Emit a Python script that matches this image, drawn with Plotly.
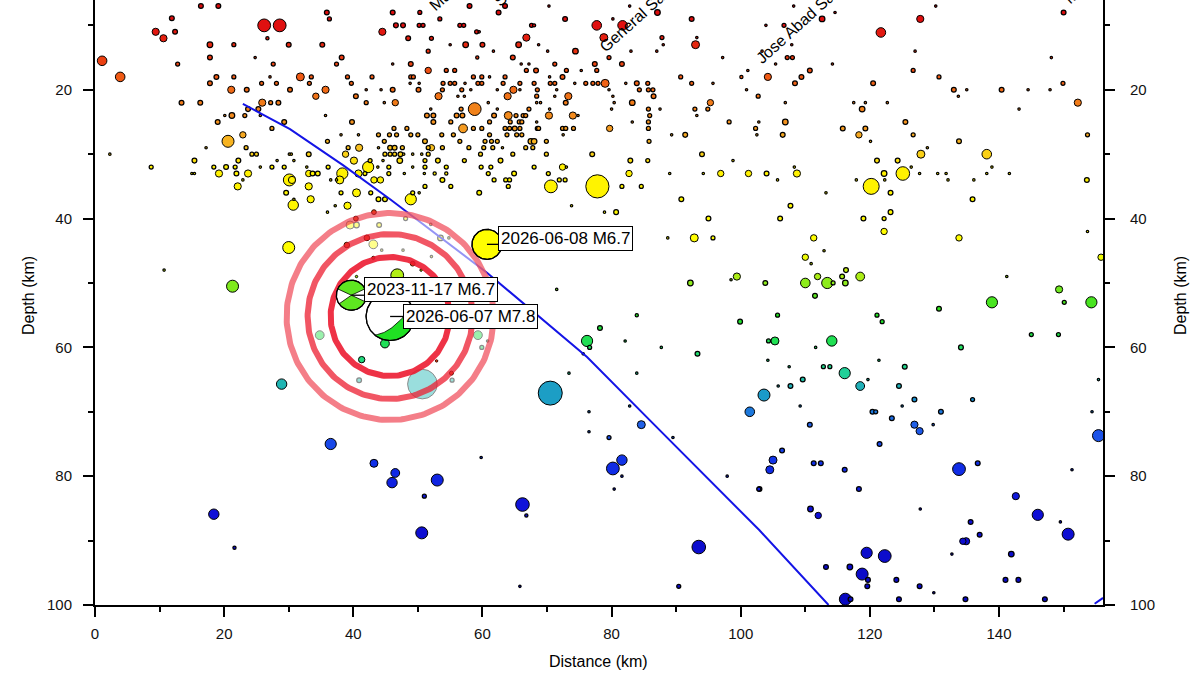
import numpy as np
import plotly.graph_objects as go

# ============================================================ DATA
# catalogue events: distance along profile (km), depth (km), magnitude
# shallow western cluster
west_dist = [16.4,19.1,11.9,9.4,10.6,12.4,26.2,28.6,26.7,17.8,
             21.5,30.0,35.2,35.9,36.3,46.1,50.3,46.6,47.7,50.2,
             50.8,44.5,48.5,1.1,3.9,12.8,17.8,24.8,27.6,37.4,
             38.2,46.1,48.9,51.6,51.6,18.8,17.8,21.5,27.1,25.8,
             28.1,31.8,33.5,33.2,39.1,39.7,42.9,48.9,49.3,48.8,
             50.2,21.1,23.5,30.2,35.7,34.2,40.4,42.0,44.3,46.1,
             50.1,13.4,16.3,25.9,27.2,28.4,23.7,25.3,25.6,42.0,
             44.8,46.5,20.1,21.2,23.2,35.7,19.0,29.3,39.8,27.4,
             20.6,22.9,17.2,23.4,2.3,8.7,15.4,15.0,15.4,19.2]
west_depth = [7.0,7.0,8.9,11.0,12.0,11.0,10.0,10.0,12.0,13.0,
              13.0,13.0,13.0,8.0,9.0,8.0,8.0,10.0,10.0,10.0,
              10.0,11.0,12.0,15.5,18.0,16.0,15.0,15.0,16.0,16.0,
              15.0,16.0,16.0,17.0,14.0,18.0,19.0,18.0,18.0,19.0,
              19.0,18.0,18.0,19.0,18.0,19.0,18.0,18.0,18.0,19.0,
              19.0,20.0,20.0,20.0,20.0,21.0,21.0,20.0,20.0,20.0,
              20.0,22.0,22.0,22.0,22.0,22.0,23.0,23.0,24.0,22.0,
              22.0,22.0,24.0,24.0,24.0,24.0,25.0,25.0,25.0,26.0,
              28.0,27.0,29.0,29.0,30.0,32.0,31.0,33.0,33.0,33.0]
west_mag = [3.1,3.1,3.1,3.4,3.4,3.1,4.1,4.1,2.9,3.2,
            3.0,3.1,3.1,3.1,3.0,3.1,3.0,3.1,3.1,3.0,
            3.0,3.4,3.1,3.7,3.7,3.0,3.1,2.8,3.0,3.0,
            3.1,2.8,3.1,3.3,3.0,3.1,3.1,3.0,2.8,3.0,
            3.0,3.5,3.0,3.0,3.0,3.0,3.0,3.0,3.0,2.8,
            2.8,3.4,3.1,3.1,3.4,3.3,3.1,2.8,2.8,3.1,
            3.1,3.1,3.1,3.4,3.0,3.1,3.1,3.1,2.8,3.0,
            2.8,3.3,2.8,3.2,3.0,2.8,3.1,3.1,3.1,3.0,
            4.0,3.3,2.8,3.0,2.8,3.0,3.1,2.8,2.8,3.4]

# western yellow cluster (26-39 km depth)
wy_dist = [18.4,20.3,21.7,21.9,22.2,23.7,24.3,25.0,22.9,22.1,
           25.6,27.4,28.2,29.3,30.1,30.4,30.1,30.5,30.8,33.1,
           33.1,33.7,34.5,33.1,32.8,29.6,33.4,30.8,36.0,38.1,
           38.8,39.2,40.9,40.8,36.1,36.5,37.4,38.3,37.9,40.1,
           40.8,38.1,40.5,42.3,42.6,41.8,43.2,44.2,43.9,43.9,
           45.6,46.7,46.3,48.3,48.9,50.0,44.8,45.7,46.4,47.6,
           44.9,45.7,46.4,47.3,47.2,47.8,49.2,50.6,44.6,43.8,
           45.5,45.5,47.9,49.2,51.0,51.1,51.6,48.9,49.2,43.9,
           44.9,50.2,30.7,37.2,36.0,39.1,42.7]
wy_depth = [32.0,32.0,32.0,33.0,31.0,33.0,30.0,30.0,34.0,35.0,
            32.0,32.0,31.0,32.0,30.0,30.0,34.0,34.0,31.0,30.0,
            33.0,33.0,33.0,35.0,32.0,36.0,37.0,37.0,28.0,27.0,
            30.0,29.0,29.0,27.0,32.0,34.0,34.0,33.0,34.0,31.0,
            33.0,36.0,36.0,32.0,31.0,33.0,34.0,34.0,29.0,27.0,
            27.0,27.0,26.0,26.0,27.0,27.0,28.0,29.0,29.0,29.0,
            30.0,30.0,30.0,30.0,31.0,30.0,30.0,30.0,31.0,32.0,
            32.0,33.0,33.0,32.0,33.0,28.0,29.0,37.0,36.0,37.0,
            37.0,36.0,37.9,38.0,39.0,38.0,36.0]
wy_mag = [3.0,3.1,3.0,3.1,3.1,3.4,3.0,3.0,2.8,3.4,
          2.8,3.0,2.8,3.0,2.8,2.8,4.0,3.4,2.8,3.1,
          3.3,3.1,3.1,3.4,2.8,3.1,3.4,2.8,3.0,2.8,
          3.3,3.0,3.4,2.8,3.0,2.8,2.8,3.9,3.5,3.4,
          3.4,3.0,3.5,3.9,3.0,3.0,3.3,3.3,2.8,3.0,
          3.0,3.0,3.0,3.0,3.0,3.0,3.0,3.1,3.1,3.0,
          3.0,3.0,3.0,3.1,3.2,2.8,2.8,2.8,2.8,2.8,
          3.0,3.0,2.8,2.8,2.8,3.1,3.0,3.9,3.0,3.1,
          3.1,2.8,3.8,2.8,2.8,3.4,3.0]

# deeper western events (incl. those around the 2026 sequence)
wd_dist = [30.0,10.7,21.3,28.9,39.5,40.5,43.1,44.0,48.1,44.4,
           47.7,34.8,59.3,59.9,60.8,40.9,55.3,53.5,54.8,52.0,
           52.1,50.7]
wd_depth = [44.5,48.0,50.5,65.7,41.0,41.0,44.0,41.0,40.0,44.9,
            44.9,58.1,58.1,60.0,59.0,65.1,65.1,43.0,43.0,40.9,
            45.9,65.7]
wd_mag = [4.0,2.8,4.0,3.8,3.5,3.2,3.6,3.1,3.0,2.8,
          2.8,3.6,3.6,3.0,2.8,3.1,3.0,3.2,2.8,2.8,
          2.8,6.2]

# central shallow events (7-18 km)
cs_dist = [58.0,62.5,63.5,70.3,82.8,53.4,56.5,57.1,59.1,59.5,
           67.6,68.0,72.8,77.7,78.8,81.7,80.2,87.1,92.4,87.8,
           88.0,93.2,93.0,52.1,55.0,57.4,60.0,65.6,66.8,68.7,
           61.7,64.7,70.1,74.4,79.6,83.0,87.0,59.2,97.2,66.0,
           67.2,71.2,77.4,81.6,54.4,55.7,66.8,68.3,73.0,75.3,
           77.7,101.1,58.6,59.9,61.1,63.5,72.4,70.4,90.7,100.1]
cs_depth = [7.0,8.0,7.0,7.0,7.0,9.0,10.0,10.0,11.0,11.0,
            10.0,10.0,9.0,10.0,11.9,10.0,9.0,8.0,9.0,11.9,
            13.0,11.9,13.0,12.0,13.0,13.0,13.0,13.0,11.9,13.0,
            14.0,15.0,14.0,14.0,15.0,14.0,14.0,15.0,15.0,16.0,
            16.0,16.0,16.0,16.0,17.0,17.0,17.0,17.0,17.0,17.0,
            17.0,17.0,18.0,18.0,18.0,18.0,18.0,18.0,18.0,18.0]
cs_mag = [3.1,3.1,3.1,2.8,2.8,3.0,3.0,3.0,3.0,2.8,
          3.0,2.9,3.1,3.7,3.5,3.7,2.8,3.2,3.1,3.0,
          2.8,2.8,3.5,3.0,2.8,3.2,3.1,3.2,3.4,2.8,
          2.8,3.1,2.8,3.2,3.0,2.8,2.8,2.9,2.8,2.8,
          2.8,3.0,3.1,3.1,3.0,3.0,3.0,3.1,3.0,2.8,
          3.0,2.8,3.0,3.0,2.8,3.0,3.1,2.8,3.0,2.9]

# central events 19-25 km
cm_dist = [53.9,55.0,55.7,57.3,59.3,59.9,63.2,65.8,68.0,70.5,
           71.2,74.3,76.0,77.1,77.9,79.0,82.2,83.9,85.6,92.4,
           95.7,53.8,56.8,58.2,62.3,64.8,65.8,68.5,71.5,79.6,
           84.3,85.7,86.4,100.9,53.2,56.2,57.2,63.9,68.4,71.2,
           73.3,80.2,86.5,102.7,58.8,60.9,68.4,69.0,72.9,80.4,
           83.2,95.3,52.0,56.7,62.3,67.2,70.4,80.0,85.7,87.5,
           92.9,94.9,51.4,52.4,56.0,56.9,61.8,64.0,65.2,66.3,
           66.7,70.3,74.0,74.8,85.9,93.2,52.4,55.1,61.1,64.3,
           65.7,66.1,68.4,83.2,85.7,98.2]
cm_depth = [19.0,19.0,19.0,19.0,19.0,19.0,19.0,19.0,19.0,19.0,
            19.0,19.0,19.0,19.0,19.0,19.0,19.0,19.0,19.0,19.0,
            19.0,20.0,20.0,20.0,20.0,20.0,20.0,20.0,20.0,20.0,
            20.0,20.0,20.0,20.0,21.0,21.0,21.0,21.0,21.0,21.0,
            21.0,21.0,21.0,21.0,23.0,22.0,22.0,22.0,22.0,22.0,
            22.0,22.0,23.0,23.0,23.0,23.0,23.0,23.0,23.0,23.0,
            23.0,23.0,24.0,24.0,24.0,24.0,24.0,24.0,24.0,24.0,
            24.0,24.0,24.0,24.0,24.0,24.0,25.0,25.0,25.0,25.0,
            25.0,25.0,25.0,25.0,25.0,25.0]
cm_mag = [3.0,3.0,3.0,2.8,3.0,3.0,3.0,3.0,3.0,3.0,
          3.0,2.8,3.0,3.0,3.0,3.5,2.8,3.1,3.0,3.0,
          2.8,3.0,3.0,2.8,2.8,3.4,2.8,3.0,2.8,2.8,
          3.0,3.0,3.0,2.8,3.4,2.8,2.8,3.4,3.0,2.8,
          3.4,2.8,3.1,3.0,4.1,2.8,2.8,2.8,3.1,2.8,
          3.2,3.3,2.8,3.0,2.8,3.0,2.8,2.8,3.0,2.8,
          3.0,3.0,3.1,3.1,3.1,3.1,3.1,3.5,3.0,3.0,
          3.0,3.4,3.4,2.8,3.0,2.8,3.1,3.0,3.0,3.0,
          3.0,3.0,2.8,2.8,3.0,3.0]

# central events 26-37 km
cd_dist = [57.0,58.6,59.9,63.5,64.2,65.0,65.8,68.5,68.7,72.4,
           72.9,74.1,79.7,85.7,102.3,53.7,55.5,61.1,63.8,65.3,
           66.1,72.5,91.4,89.3,102.5,56.5,60.4,61.4,62.3,67.5,
           68.0,69.9,85.8,52.1,53.8,57.9,60.2,61.6,63.1,66.7,
           67.8,51.6,59.7,64.7,69.9,77.0,94.0,51.1,53.1,57.2,
           62.8,85.6,82.9,98.8,51.1,54.4,59.8,61.3,68.0,72.4,
           73.0,52.6,54.4,60.9,64.9,70.2,82.7,89.0,94.2,96.9,
           101.2,53.8,61.8,63.6,64.2,71.9,72.8,70.6,77.8,51.1,
           55.1,64.0,81.6,84.6,59.5,90.8]
cd_depth = [26.0,26.0,26.0,26.0,26.0,26.0,26.0,26.0,26.0,26.0,
            26.0,26.0,26.0,26.0,26.0,27.0,27.0,27.0,27.0,27.0,
            27.0,27.0,27.0,27.0,27.0,28.0,28.0,28.0,28.0,28.0,
            28.0,28.0,28.0,29.0,29.0,29.0,29.0,29.0,29.0,29.0,
            29.0,30.0,30.0,30.0,30.0,30.0,30.0,31.0,31.0,31.0,
            31.0,31.0,31.0,31.0,32.0,32.0,32.0,32.0,32.0,32.0,
            32.0,33.0,33.0,33.0,33.0,33.0,33.0,33.0,33.0,33.0,
            33.0,34.0,34.0,34.0,34.0,34.0,34.0,35.0,35.0,35.0,
            35.0,35.0,35.0,35.0,36.0,37.0]
cd_mag = [3.6,3.0,3.0,3.0,3.0,3.1,3.0,3.0,3.0,3.0,
          3.0,3.0,3.3,3.0,3.0,3.0,3.0,3.0,3.0,3.0,
          3.0,2.8,3.1,2.8,2.8,3.0,3.0,3.0,3.0,3.2,
          3.2,3.0,3.0,3.3,3.0,3.0,3.0,3.0,2.8,3.0,
          3.0,3.0,3.0,3.0,3.0,3.1,3.1,3.0,3.1,3.0,
          3.1,3.0,3.1,2.8,3.0,3.0,3.0,3.0,3.0,3.3,
          2.8,2.9,2.9,3.0,3.1,3.0,3.3,2.8,2.8,3.3,
          3.3,3.1,3.0,3.0,3.0,3.0,3.0,4.1,5.4,3.0,
          3.0,3.0,3.0,3.0,3.1,3.1]

# eastern shallow events
es_dist = [108.2,114.6,112.6,103.9,106.7,121.7,127.8,130.2,150.0,107.9,
           103.3,127.0,107.2,108.0,105.4,114.2,148.1,104.2,109.4,110.7,
           108.4,126.7,130.7,120.5,149.9,133.0,135.0,140.4,144.5,147.9,
           133.7,106.9,117.5,119.3,122.7,118.8,143.1,152.2,102.8,106.9,
           106.5,115.8,119.3,118.3,125.5,126.7,120.1,133.8,153.7,128.9,
           127.9,138.1,121.1,124.3,108.3,126.4,138.9,104.0,108.7,122.2,
           125.1,127.7,130.5,131.8,138.1,141.6,105.7,117.9,122.3,132.1,
           136.1,153.6,120.2,113.2,123.2,135.9]
es_depth = [7.0,8.0,9.0,10.0,10.0,11.1,9.0,7.0,8.0,13.0,
            14.0,14.0,15.0,15.0,16.0,16.0,15.0,18.0,18.0,17.0,
            19.0,17.0,18.0,19.0,19.0,20.0,20.0,20.0,20.0,20.0,
            21.0,22.0,22.0,22.0,22.0,23.0,23.0,22.0,25.0,25.0,
            27.0,26.0,26.0,27.0,25.0,27.0,28.0,28.0,27.0,29.0,
            30.0,30.0,31.0,31.0,32.0,32.0,32.0,33.0,33.0,33.0,
            33.0,33.0,33.0,33.0,33.0,33.0,34.0,34.0,34.0,34.0,
            34.0,34.0,35.0,36.0,36.0,37.0]
es_mag = [2.8,2.8,3.2,2.8,3.0,3.7,3.4,2.8,3.1,2.8,
          2.8,2.8,3.0,3.0,2.8,2.8,2.8,3.4,3.1,3.1,
          3.1,3.0,3.0,3.1,3.0,3.1,2.8,3.1,2.8,2.8,
          2.8,2.8,2.8,2.8,2.8,3.2,2.8,3.4,2.8,3.2,
          3.1,3.1,3.1,3.3,3.1,3.0,2.8,3.1,3.0,2.8,
          3.5,3.7,3.1,3.1,2.8,2.8,2.8,3.1,3.4,3.2,
          4.2,2.8,2.8,2.8,2.8,2.8,2.8,2.8,2.8,2.8,
          2.8,3.1,4.5,2.8,3.1,3.1]

# intermediate events 38-52 km (east)
ei_dist = [73.8,78.9,80.7,95.0,88.7,92.8,95.7,107.7,106.1,119.0,
           122.2,123.2,122.2,111.3,133.8,112.9,110.0,110.9,153.7,155.8,
           116.3,71.5,92.2,99.4,98.5,103.8,110.0,111.9,113.4,114.3,
           115.7,116.2,118.5,111.5,141.2,149.3]
ei_depth = [38.0,39.0,39.0,40.0,43.0,43.0,43.0,38.0,40.0,40.0,
            40.0,39.0,42.0,43.0,43.0,45.0,46.0,47.0,42.0,46.0,
            48.0,51.0,50.0,49.0,49.5,50.0,50.0,49.0,50.0,50.0,
            49.0,50.0,49.0,52.0,49.0,51.0]
ei_mag = [2.8,2.8,3.1,3.1,2.8,3.5,3.0,3.1,3.1,3.1,
          3.0,3.1,3.3,3.3,3.3,2.8,3.3,2.8,2.8,3.3,
          3.1,2.8,3.2,3.4,2.8,3.1,3.7,3.3,3.9,3.0,
          3.1,3.2,3.6,3.1,2.8,3.4]

# events 53-71 km (east)
em_dist = [150.1,138.9,154.3,130.7,105.7,121.1,121.9,145.0,149.2,104.3,
           105.3,114.1,111.6,134.1,104.2,107.5,112.8,113.8,121.4,125.4,
           116.1,109.6,118.5,119.7,105.8,107.7,124.5,155.4,103.6,109.2,
           126.9,125.0,135.9,120.4,120.9,131.0,123.4,154.4,101.4,83.9,
           78.2,99.9,82.1,87.7,93.3,76.2,76.6,75.6,73.4,83.9,
           70.5,76.5,82.8]
em_depth = [53.0,53.0,53.0,54.0,55.0,55.0,56.0,58.0,58.0,59.0,
            59.0,59.0,60.0,60.0,62.0,63.0,63.0,63.0,62.0,63.0,
            64.0,65.0,66.0,65.0,66.0,66.0,66.0,65.0,67.4,69.1,
            68.1,69.1,68.1,70.0,70.0,70.0,71.0,70.0,70.0,55.0,
            57.0,56.0,59.0,60.0,61.0,59.0,60.0,61.0,64.0,64.0,
            67.1,70.0,69.1]
em_mag = [3.0,3.9,3.9,3.1,3.0,3.0,3.0,3.0,3.0,3.0,
          3.5,3.8,2.8,3.1,2.8,2.8,3.0,3.0,2.8,3.1,
          3.9,3.1,3.6,2.8,2.8,3.1,3.1,2.8,4.0,2.8,
          3.1,2.8,3.0,3.1,3.0,3.1,3.1,2.8,3.7,2.9,
          3.1,3.1,2.8,2.8,3.1,3.9,3.0,2.8,2.8,2.8,
          5.5,2.8,2.8]

# deep events 72-100 km
dp_dist = [110.7,126.9,127.7,129.8,155.4,121.5,106.4,105.0,104.5,111.3,
           112.4,116.1,133.8,136.7,151.3,102.9,118.3,142.6,110.8,112.0,
           127.8,146.0,149.5,135.6,137.0,134.4,134.9,150.7,119.5,122.3,
           132.7,141.9,113.2,116.9,118.8,119.7,119.6,124.1,127.7,129.9,
           141.0,143.0,116.2,117.0,124.5,134.8,147.1,76.5,79.6,84.6,
           89.5,59.8,53.0,51.0,50.6,66.2,66.8,80.2,81.6,81.6,
           80.4,97.9,102.8,93.5,65.8,90.4,36.5,43.2,46.5,46.0,
           18.4,21.6]
dp_depth = [72.0,72.0,73.0,72.0,73.7,75.0,76.0,77.5,79.0,78.0,
            78.0,79.0,78.9,78.0,79.0,82.0,82.0,83.1,85.1,86.1,
            85.1,86.0,87.1,87.1,89.1,90.1,90.1,89.0,91.9,92.4,
            92.1,92.1,94.1,94.1,95.2,96.1,97.1,96.1,97.1,98.1,
            96.1,96.1,99.1,99.1,99.1,99.1,99.1,73.1,74.0,72.0,
            74.0,77.1,80.6,83.1,88.8,84.4,86.1,78.8,77.5,80.0,
            82.0,80.0,82.0,91.0,97.1,97.1,75.0,78.0,79.5,81.0,
            85.9,91.1]
dp_mag = [3.1,3.4,3.4,2.8,4.0,3.1,3.1,3.5,3.5,3.1,
          3.1,3.1,4.1,3.1,2.8,3.1,3.1,3.4,3.2,3.3,
          2.8,3.9,2.8,3.1,3.1,3.3,3.4,4.0,3.9,4.1,
          2.8,3.2,3.1,3.2,4.0,3.1,3.1,3.1,3.1,2.8,
          3.1,3.1,4.0,3.1,3.1,3.1,3.1,2.8,3.0,3.5,
          2.8,2.8,4.0,3.0,4.0,4.2,2.9,4.1,3.8,2.8,
          2.8,2.8,3.0,4.2,2.8,3.0,3.9,3.5,3.6,3.8,
          3.8,2.9]

# 2026 sequence events plotted above the highlight
seq_dist = [46.8, 44.9, 41.3, 40.5, 50.5]
seq_depth = [48.8, 59.4, 61.9, 49.0, 48.0]
seq_mag = [4.1, 3.6, 3.3, 2.8, 2.8]

# first-day aftershocks
early_dist = [40.4, 43.2, 42.1, 39.0, 49.2, 43.1, 55.2, 52.9]
early_depth = [40.0, 39.0, 43.0, 44.1, 47.0, 46.1, 64.0, 62.1]
early_mag = [3.1, 3.1, 3.2, 3.2, 3.1, 2.9, 3.0, 2.8]

# focal mechanisms
mech_label = ["2026-06-07 M7.8", "2023-11-17 M6.7", "2026-06-08 M6.7"]
mech_dist = [45.7, 39.7, 60.7]
mech_depth = [55.2, 51.9, 44.0]
mech_mag = [7.8, 6.7, 6.7]

# slab interface
slab_dist = [22.9, 30.2, 38.4, 45.7, 60.7, 68.1, 76.2, 85.9, 102.9, 113.6, None, 154.8, 156.1]
slab_depth = [22.2, 26.1, 31.7, 37.0, 48.4, 54.7, 61.5, 71.3, 88.4, 100.0, None, 99.8, 98.9]

# place names along the profile
place_name = ["Malungon", "Sarangani", "General Santos", "Jose Abad Santos", "Malita"]
place_dist = [50.8, 60.9, 77.3, 101.4, 149.1]
place_depth = [8.7, 7.9, 15.1, 16.9, 7.6]

# ============================================================ LAYOUT CONSTANTS
W, H = 1200, 675
ML, MR, MT, MB = 95, 97, 0, 70
X_RANGE = [0, 156.1]
Y_RANGE = [100, 6.06]
KX = (W - ML - MR) / (X_RANGE[1] - X_RANGE[0])
KY = (H - MT - MB) / (Y_RANGE[0] - Y_RANGE[1])
FONT = "Liberation Sans, Arial, Helvetica, sans-serif"

DEPTH_STOPS = [
    (0.00, "#c80000"), (0.10, "#e01010"), (0.14, "#e83010"), (0.18, "#f05a14"),
    (0.22, "#f07a18"), (0.26, "#f49a20"), (0.29, "#f8c020"), (0.32, "#fff000"),
    (0.45, "#ffff00"), (0.48, "#c8f010"), (0.51, "#70e820"), (0.55, "#20e020"),
    (0.60, "#20e060"), (0.64, "#20d098"), (0.66, "#20b0b8"), (0.68, "#1890d0"),
    (0.72, "#2060e8"), (0.78, "#1030e8"), (0.85, "#1010d8"), (1.00, "#0808c0"),
]
CMIN, CMAX = 0, 100


def hex_rgb(h):
    return tuple(int(h[i:i + 2], 16) for i in (1, 3, 5))


def depth_colour(d):
    t = min(max((d - CMIN) / (CMAX - CMIN), 0), 1)
    for (t0, c0), (t1, c1) in zip(DEPTH_STOPS, DEPTH_STOPS[1:]):
        if t0 <= t <= t1:
            f = (t - t0) / (t1 - t0) if t1 > t0 else 0
            a, b = hex_rgb(c0), hex_rgb(c1)
            return "rgb(%d,%d,%d)" % tuple(round(a[i] + (b[i] - a[i]) * f) for i in range(3))
    return DEPTH_STOPS[-1][1]


def mag_px(m):
    return max(2.2, 8.0 * (m - 2.5))


def edge_px(m):
    return 1.25 if mag_px(m) < 6 else 1.0


def ball_px(m):
    return 15 + (m - 6.7) * 8.2


def pt(cx, cd, ux, uy, r):
    return cx + ux * r / KX, cd - uy * r / KY


def arc(cx, cd, r, a0, a1, n=80):
    t = np.radians(np.linspace(a0, a1, n))
    return list(cx + r * np.cos(t) / KX), list(cd - r * np.sin(t) / KY)


# ============================================================ FIGURE
all_dist = west_dist + wy_dist + wd_dist + cs_dist + cm_dist + cd_dist + es_dist + ei_dist + em_dist + dp_dist
all_depth = west_depth + wy_depth + wd_depth + cs_depth + cm_depth + cd_depth + es_depth + ei_depth + em_depth + dp_depth
all_mag = west_mag + wy_mag + wd_mag + cs_mag + cm_mag + cd_mag + es_mag + ei_mag + em_mag + dp_mag
n = min(len(all_dist), len(all_depth), len(all_mag))
order = sorted(range(n), key=lambda i: -all_mag[i])

cscale = [[s, c] for s, c in DEPTH_STOPS]

fig = go.Figure()

fig.add_trace(go.Scatter(
    x=[all_dist[i] for i in order], y=[all_depth[i] for i in order], mode="markers",
    marker=dict(size=[mag_px(all_mag[i]) for i in order], color=[all_depth[i] for i in order],
                colorscale=cscale, cmin=CMIN, cmax=CMAX, opacity=1,
                line=dict(color="black", width=[edge_px(all_mag[i]) for i in order])),
    hoverinfo="skip"))

fig.add_trace(go.Scatter(x=slab_dist, y=slab_depth, mode="lines",
                         line=dict(color="#1414e6", width=2), hoverinfo="skip"))

# highlight disk around the mainshock
c_x, c_d = mech_dist[0], mech_depth[0]
dx, dy = arc(c_x, c_d, 106, 0, 360, 181)
fig.add_trace(go.Scatter(x=dx, y=dy, mode="lines", fill="toself",
                         fillcolor="rgba(255,255,255,0.55)", line=dict(width=0), hoverinfo="skip"))

fig.add_trace(go.Scatter(
    x=seq_dist, y=seq_depth, mode="markers",
    marker=dict(size=[mag_px(m) for m in seq_mag], color=seq_depth, colorscale=cscale,
                cmin=CMIN, cmax=CMAX, opacity=1, line=dict(color="black", width=1)),
    hoverinfo="skip"))
fig.add_trace(go.Scatter(
    x=early_dist, y=early_depth, mode="markers",
    marker=dict(size=[mag_px(m) for m in early_mag], color="#ec4a1c", opacity=1,
                line=dict(color="#3a0a00", width=1)),
    hoverinfo="skip"))

# rings
for r_px, col in [(103.5, "rgba(236,40,56,0.60)"), (82.5, "rgba(236,30,48,0.75)"),
                  (59.5, "rgba(236,22,44,0.88)")]:
    rx, ry = arc(c_x, c_d, r_px, 0, 360, 241)
    fig.add_trace(go.Scatter(x=rx, y=ry, mode="lines", line=dict(color=col, width=6),
                             hoverinfo="skip"))

# focal mechanisms
for i in range(len(mech_dist)):
    cx, cd, r = mech_dist[i], mech_depth[i], ball_px(mech_mag[i])
    col = depth_colour(cd)
    bx, by = arc(cx, cd, r, 0, 360, 121)
    base = "white" if i < 2 else col
    fig.add_trace(go.Scatter(x=bx, y=by, mode="lines", fill="toself", fillcolor=base,
                             line=dict(color="black", width=1.2), hoverinfo="skip"))
    if i == 0:
        gx, gy = arc(cx, cd, r, -130, 25, 80)
        p2 = (np.cos(np.radians(25)), np.sin(np.radians(25)))
        p0 = (np.cos(np.radians(-130)), np.sin(np.radians(-130)))
        cc = (0.065, -0.725)
        for s in np.linspace(0, 1, 40):
            ux = (1 - s) ** 2 * p2[0] + 2 * (1 - s) * s * cc[0] + s ** 2 * p0[0]
            uy = (1 - s) ** 2 * p2[1] + 2 * (1 - s) * s * cc[1] + s ** 2 * p0[1]
            px_, py_ = pt(cx, cd, ux, uy, r)
            gx.append(px_)
            gy.append(py_)
        fig.add_trace(go.Scatter(x=gx, y=gy, mode="lines", fill="toself", fillcolor=col,
                                 line=dict(color="black", width=0.8), hoverinfo="skip"))
    elif i == 1:
        gx, gy = [], []
        for a0, a1 in [(25, 155), (215, 335)]:
            ax_, ay_ = arc(cx, cd, r, a0, a1, 40)
            gx += [cx] + ax_ + [cx, None]
            gy += [cd] + ay_ + [cd, None]
        fig.add_trace(go.Scatter(x=gx, y=gy, mode="lines", fill="toself", fillcolor=col,
                                 line=dict(color="black", width=0.8), hoverinfo="skip"))
    fig.add_trace(go.Scatter(x=bx, y=by, mode="lines", line=dict(color="black", width=1.2),
                             hoverinfo="skip"))

LABEL_DX = [13, 13, 11]
LABEL_DY = [0, 6, 6]
lx, ly = [], []
for i in range(len(mech_dist)):
    lx += [mech_dist[i], mech_dist[i] + (LABEL_DX[i] + 2) / KX, None]
    ly += [mech_depth[i], mech_depth[i], None]
fig.add_trace(go.Scatter(x=lx, y=ly, mode="lines", line=dict(color="black", width=1.3),
                         hoverinfo="skip"))

# dummy for the right axis
fig.add_trace(go.Scatter(x=[X_RANGE[0]], y=[Y_RANGE[0]], yaxis="y2", mode="markers",
                         marker=dict(opacity=0), hoverinfo="skip"))

annotations = []
for i in range(len(mech_dist)):
    annotations.append(dict(
        x=mech_dist[i], y=mech_depth[i], xref="x", yref="y", text=mech_label[i],
        showarrow=False, xanchor="left", yanchor="middle",
        xshift=LABEL_DX[i], yshift=LABEL_DY[i],
        font=dict(family=FONT, size=17, color="black"),
        bgcolor="white", bordercolor="black", borderwidth=1, borderpad=2))
for name, xd, yd in zip(place_name, place_dist, place_depth):
    annotations.append(dict(
        x=xd, y=yd, xref="x", yref="y", text=name, showarrow=False,
        xanchor="left", yanchor="bottom", textangle=-42,
        font=dict(family=FONT, size=16, color="black")))
annotations += [
    dict(x=(28 - ML) / (W - ML - MR), y=1 - 296 / (H - MT - MB), xref="paper", yref="paper",
         text="Depth (km)", textangle=-90, showarrow=False, xanchor="center", yanchor="middle",
         font=dict(family=FONT, size=16, color="black")),
    dict(x=(1180 - ML) / (W - ML - MR), y=1 - 296 / (H - MT - MB), xref="paper", yref="paper",
         text="Depth (km)", textangle=-90, showarrow=False, xanchor="center", yanchor="middle",
         font=dict(family=FONT, size=16, color="black")),
    dict(x=(598 - ML) / (W - ML - MR), y=-(661 - (H - MB)) / (H - MT - MB), xref="paper", yref="paper",
         text="Distance (km)", showarrow=False, xanchor="center", yanchor="middle",
         font=dict(family=FONT, size=16, color="black")),
]

axis_common = dict(
    showline=True, linecolor="black", linewidth=2, ticks="outside", ticklen=10,
    tickwidth=1.5, tickcolor="black", showgrid=False, zeroline=False,
    tickfont=dict(family=FONT, size=15, color="#111"), tick0=0, dtick=20,
    minor=dict(ticks="outside", ticklen=5, tickwidth=1.5, tickcolor="black",
               dtick=10, tick0=0, showgrid=False),
)

fig.update_layout(
    width=W, height=H,
    margin=dict(l=ML, r=MR, t=MT, b=MB, pad=0),
    paper_bgcolor="white", plot_bgcolor="white", showlegend=False,
    font=dict(family=FONT, size=15, color="black"),
    xaxis=dict(range=X_RANGE, ticklabelstandoff=4, **axis_common),
    yaxis=dict(range=Y_RANGE, side="left", ticklabelstandoff=8, **axis_common),
    yaxis2=dict(range=Y_RANGE, overlaying="y", side="right", ticklabelstandoff=12, **axis_common),
    annotations=annotations,
)

fig.write_html("out.html", include_plotlyjs=True, config={"displayModeBar": False})
